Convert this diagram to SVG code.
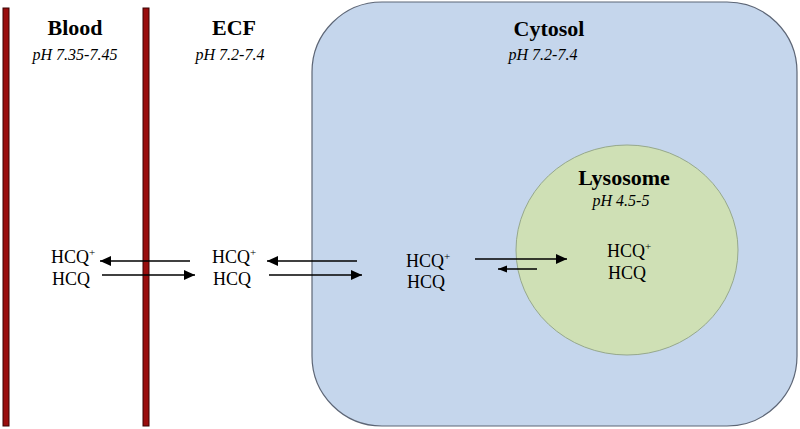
<svg xmlns="http://www.w3.org/2000/svg" width="800" height="429" viewBox="0 0 800 429">
<defs>
<style>
.title{font-family:"Liberation Serif",serif;font-weight:bold;font-size:22px;text-anchor:middle;fill:#000}
.ph{font-family:"Liberation Serif",serif;font-style:italic;font-size:16px;text-anchor:middle;fill:#000}
.hcq{font-family:"Liberation Serif",serif;font-size:18px;fill:#000}
.sup{font-size:11px}
.bar{fill:#990d0d;stroke:#3a0505;stroke-width:1}
.arr{stroke:#000;stroke-width:1.4;fill:none}
</style>
<marker id="ah" markerUnits="userSpaceOnUse" markerWidth="12" markerHeight="10" refX="11" refY="5" orient="auto">
<path d="M0,0 L11,5 L0,10 Z" fill="#000"/>
</marker>
<marker id="ahs" markerUnits="userSpaceOnUse" markerWidth="10" markerHeight="8" refX="9" refY="3.5" orient="auto">
<path d="M0,0 L9,3.5 L0,7 Z" fill="#000"/>
</marker>
</defs>
<rect width="800" height="429" fill="#fff"/>
<g id="cytosol">
<rect x="312" y="2" width="485" height="424" rx="70" ry="70" fill="#c5d6ec" stroke="#5d6676" stroke-width="1.2"/>
<text class="title" x="549" y="36">Cytosol</text>
<text class="ph" x="543" y="60">pH 7.2-7.4</text>
<text class="hcq" x="406" y="267">HCQ<tspan class="sup" dy="-7">+</tspan></text>
<text class="hcq" x="407" y="288">HCQ</text>
</g>
<g id="lysosome">
<ellipse cx="627" cy="250" rx="111" ry="105" fill="#cfe0b5" stroke="#96a88c" stroke-width="1"/>
<text class="title" x="624" y="185">Lysosome</text>
<text class="ph" x="621" y="206">pH 4.5-5</text>
<text class="hcq" x="607" y="257">HCQ<tspan class="sup" dy="-7">+</tspan></text>
<text class="hcq" x="608" y="279">HCQ</text>
</g>
<g id="blood">
<rect class="bar" x="3" y="8" width="6" height="418"/>
<text class="title" x="75" y="35">Blood</text>
<text class="ph" x="75" y="60">pH 7.35-7.45</text>
<text class="hcq" x="51" y="263">HCQ<tspan class="sup" dy="-7">+</tspan></text>
<text class="hcq" x="52" y="285">HCQ</text>
</g>
<g id="ecf">
<rect class="bar" x="143" y="8" width="6" height="418"/>
<text class="title" x="234" y="35">ECF</text>
<text class="ph" x="230" y="60">pH 7.2-7.4</text>
<text class="hcq" x="212" y="263">HCQ<tspan class="sup" dy="-7">+</tspan></text>
<text class="hcq" x="213" y="285">HCQ</text>
</g>
<g id="connectors">
<line class="arr" x1="190" y1="261" x2="100" y2="261" marker-end="url(#ah)"/>
<line class="arr" x1="102" y1="275" x2="195" y2="275" marker-end="url(#ah)"/>
<line class="arr" x1="357" y1="261" x2="267" y2="261" marker-end="url(#ah)"/>
<line class="arr" x1="269" y1="275" x2="362" y2="275" marker-end="url(#ah)"/>
<line class="arr" x1="475" y1="259" x2="567" y2="259" marker-end="url(#ah)"/>
<line class="arr" x1="537" y1="269" x2="498" y2="269" marker-end="url(#ahs)"/>
</g>
</svg>
